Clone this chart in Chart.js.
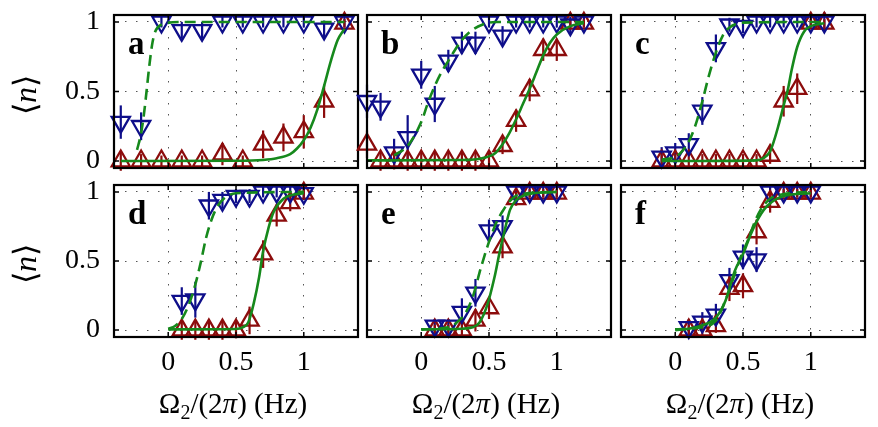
<!DOCTYPE html>
<html>
<head>
<meta charset="utf-8">
<script src="https://cdn.jsdelivr.net/npm/chart.js@4.4.1/dist/chart.umd.min.js"></script>
<style>
  body { margin: 0; background: #fff; }
  #wrap { position: relative; width: 878px; height: 427px; overflow: hidden;
          font-family: "Liberation Serif", "Times New Roman", serif; color: #000; }
  #wrap canvas { position: absolute; left: 0; top: 0; }
  .ylab { position: absolute; font-size: 32px; line-height: 1; white-space: nowrap;
          transform: translate(-50%, -50%) rotate(-90deg); }
  .xlab { position: absolute; font-size: 29px; line-height: 1; white-space: nowrap;
          transform: translate(-50%, -50%); }
  .xlab sub { font-size: 20px; vertical-align: -6px; line-height: 0; }
</style>
</head>
<body>
<div id="wrap"></div>
<script>
// tick labels and panel names
const xTicks = [0, 0.5, 1];
const yTicks = [0, 0.5, 1];
const panelLetters = ['a', 'b', 'c', 'd', 'e', 'f'];

// panel a
const aX = [-0.35, -0.2, -0.05, 0.1, 0.25, 0.4, 0.55, 0.7, 0.85, 1.0, 1.15, 1.3];
const aBlue = [0.28, 0.25, 1.0, 0.94, 0.94, 1.0, 1.0, 1.0, 1.0, 1.0, 0.95, 1.0];
const aBlueErr = [0.12, 0.1, 0.04, 0.06, 0.06, 0.04, 0.04, 0.04, 0.04, 0.04, 0.06, 0.04];
const aRed = [0, 0, 0, 0, 0, 0.05, 0, 0.12, 0.17, 0.21, 0.43, 0.99];
const aRedErr = [0.07, 0.05, 0.04, 0.04, 0.04, 0.08, 0.04, 0.1, 0.1, 0.12, 0.12, 0.03];
const aSolidX = [-0.35, 0.5, 0.7, 0.8, 0.9, 0.95, 1.0, 1.05, 1.1, 1.15, 1.2, 1.25, 1.3];
const aSolidY = [0, 0.002, 0.008, 0.02, 0.05, 0.09, 0.15, 0.24, 0.37, 0.54, 0.72, 0.87, 0.95];
const aDashX = [-0.23, -0.2, -0.18, -0.16, -0.14, -0.12, -0.1, -0.05, 0.1, 1.3];
const aDashY = [0.08, 0.2, 0.33, 0.5, 0.68, 0.83, 0.92, 0.98, 1.0, 1.0];

// panel b
const bX = [-0.4, -0.3, -0.2, -0.1, 0, 0.1, 0.2, 0.3, 0.4, 0.5, 0.6, 0.7, 0.8, 0.9, 1.0, 1.1, 1.2];
const bBlue = [0.43, 0.39, 0.06, 0.17, 0.62, 0.41, 0.72, 0.85, 0.85, 1.0, 0.9, 1.0, 1.0, 1.0, 1.0, 0.98, 1.0];
const bBlueErr = [0.12, 0.1, 0.1, 0.16, 0.1, 0.13, 0.08, 0.08, 0.08, 0.04, 0.07, 0.04, 0.04, 0.04, 0.04, 0.06, 0.04];
const bRed = [0.12, 0, 0, 0, 0, 0, 0, 0, 0, 0, 0.11, 0.29, 0.51, 0.8, 0.8, 0.99, 0.99];
const bRedErr = [0.1, 0.07, 0.06, 0.07, 0.07, 0.07, 0.07, 0.07, 0.07, 0.06, 0.06, 0.08, 0.08, 0.08, 0.08, 0.03, 0.03];
const bSolidX = [-0.4, 0.3, 0.45, 0.55, 0.6, 0.65, 0.7, 0.75, 0.8, 0.85, 0.9, 0.95, 1.0, 1.1, 1.2];
const bSolidY = [0.005, 0.007, 0.02, 0.06, 0.12, 0.2, 0.3, 0.41, 0.52, 0.64, 0.76, 0.85, 0.91, 0.97, 0.99];
const bDashX = [-0.2, -0.1, 0, 0.05, 0.1, 0.15, 0.2, 0.25, 0.3, 0.36, 0.45, 0.55, 1.2];
const bDashY = [0.04, 0.11, 0.28, 0.42, 0.54, 0.64, 0.72, 0.8, 0.87, 0.93, 0.98, 1.0, 1.0];

// panel c
const cX = [-0.1, 0, 0.1, 0.2, 0.3, 0.4, 0.5, 0.6, 0.7, 0.8, 0.9, 1.0, 1.1];
const cBlue = [0.03, 0.06, 0.12, 0.36, 0.81, 0.98, 0.97, 1.0, 1.0, 1.0, 1.0, 1.0, 1.0];
const cBlueErr = [0.07, 0.07, 0.08, 0.1, 0.1, 0.05, 0.05, 0.04, 0.04, 0.04, 0.04, 0.04, 0.07];
const cRed = [0, 0, 0, 0, 0, 0, 0, 0, 0.04, 0.43, 0.52, 0.99, 0.99];
const cRedErr = [0.05, 0.05, 0.05, 0.05, 0.05, 0.05, 0.05, 0.05, 0.06, 0.11, 0.11, 0.03, 0.03];
const cSolidX = [-0.1, 0.6, 0.65, 0.7, 0.73, 0.76, 0.8, 0.83, 0.86, 0.9, 0.95, 1.0, 1.1];
const cSolidY = [0, 0.005, 0.02, 0.07, 0.15, 0.25, 0.4, 0.51, 0.66, 0.82, 0.93, 0.97, 0.99];
const cDashX = [-0.1, 0, 0.05, 0.1, 0.15, 0.2, 0.25, 0.3, 0.35, 0.4, 0.5, 1.1];
const cDashY = [0.01, 0.03, 0.07, 0.14, 0.26, 0.43, 0.62, 0.78, 0.9, 0.96, 0.995, 1.0];

// panel d
const dX = [0.1, 0.2, 0.3, 0.4, 0.5, 0.6, 0.7, 0.8, 0.9, 1.0];
const dBlue = [0.21, 0.22, 0.9, 0.94, 0.97, 0.97, 1.0, 1.0, 1.0, 0.99];
const dBlueErr = [0.1, 0.13, 0.1, 0.06, 0.05, 0.05, 0.04, 0.04, 0.04, 0.05];
const dRed = [0, 0, 0, 0, 0, 0.07, 0.55, 0.83, 0.92, 0.99];
const dRedErr = [0.07, 0.07, 0.07, 0.07, 0.06, 0.1, 0.1, 0.08, 0.06, 0.03];
const dSolidX = [0, 0.5, 0.55, 0.59, 0.63, 0.67, 0.7, 0.74, 0.78, 0.85, 0.92, 1.0];
const dSolidY = [0.005, 0.008, 0.02, 0.055, 0.19, 0.38, 0.57, 0.74, 0.86, 0.95, 0.98, 0.99];
const dDashX = [0, 0.05, 0.1, 0.15, 0.2, 0.24, 0.28, 0.32, 0.36, 0.42, 0.5, 1.0];
const dDashY = [0.01, 0.03, 0.08, 0.18, 0.33, 0.49, 0.67, 0.8, 0.89, 0.96, 0.99, 1.0];

// panel e
const eX = [0.1, 0.2, 0.3, 0.4, 0.5, 0.6, 0.7, 0.8, 0.9, 1.0];
const eBlue = [0.03, 0.03, 0.13, 0.27, 0.72, 0.75, 1.0, 1.0, 1.0, 1.0];
const eBlueErr = [0.05, 0.05, 0.1, 0.1, 0.08, 0.08, 0.04, 0.04, 0.04, 0.04];
const eRed = [0, 0, 0, 0.07, 0.16, 0.6, 0.95, 0.99, 0.99, 0.99];
const eRedErr = [0.04, 0.04, 0.05, 0.08, 0.08, 0.08, 0.05, 0.03, 0.03, 0.03];
const eSolidX = [0, 0.3, 0.38, 0.43, 0.49, 0.54, 0.58, 0.62, 0.655, 0.7, 0.8, 1.0];
const eSolidY = [0.005, 0.01, 0.02, 0.055, 0.19, 0.38, 0.57, 0.74, 0.87, 0.94, 0.985, 1.0];
const eDashX = [0, 0.2, 0.28, 0.33, 0.38, 0.44, 0.49, 0.53, 0.56, 0.6, 0.65, 0.72, 1.0];
const eDashY = [0.005, 0.02, 0.07, 0.13, 0.24, 0.45, 0.61, 0.72, 0.79, 0.86, 0.93, 0.98, 1.0];

// panel f
const fX = [0.1, 0.2, 0.3, 0.4, 0.5, 0.6, 0.7, 0.8, 0.9, 1.0];
const fBlue = [0.02, 0.06, 0.11, 0.36, 0.53, 0.51, 1.0, 1.0, 1.0, 1.0];
const fBlueErr = [0.06, 0.07, 0.08, 0.09, 0.09, 0.09, 0.04, 0.04, 0.04, 0.04];
const fRed = [0, 0, 0.03, 0.3, 0.32, 0.71, 0.93, 0.99, 0.99, 0.99];
const fRedErr = [0.04, 0.04, 0.05, 0.09, 0.09, 0.09, 0.08, 0.03, 0.03, 0.03];
const fSolidX = [0, 0.1, 0.2, 0.3, 0.37, 0.44, 0.5, 0.56, 0.62, 0.68, 0.8, 1.0];
const fSolidY = [0, 0.01, 0.035, 0.09, 0.21, 0.43, 0.55, 0.7, 0.82, 0.9, 0.97, 0.99];
const fDashX = [0, 0.2, 0.3, 0.36, 0.42, 0.48, 0.54, 0.59, 0.63, 0.7, 0.8, 1.0];
const fDashY = [0.005, 0.02, 0.07, 0.19, 0.35, 0.52, 0.66, 0.79, 0.87, 0.95, 0.985, 1.0];

const BLUE = '#0e0e8a';
const RED = '#8c0c0c';
const GREEN = '#16891c';
const FONT = '"Liberation Serif", "Times New Roman", serif';

const panels = [
  { x: aX, blue: aBlue, blueErr: aBlueErr, red: aRed, redErr: aRedErr, sx: aSolidX, sy: aSolidY, dx: aDashX, dy: aDashY },
  { x: bX, blue: bBlue, blueErr: bBlueErr, red: bRed, redErr: bRedErr, sx: bSolidX, sy: bSolidY, dx: bDashX, dy: bDashY },
  { x: cX, blue: cBlue, blueErr: cBlueErr, red: cRed, redErr: cRedErr, sx: cSolidX, sy: cSolidY, dx: cDashX, dy: cDashY },
  { x: dX, blue: dBlue, blueErr: dBlueErr, red: dRed, redErr: dRedErr, sx: dSolidX, sy: dSolidY, dx: dDashX, dy: dDashY },
  { x: eX, blue: eBlue, blueErr: eBlueErr, red: eRed, redErr: eRedErr, sx: eSolidX, sy: eSolidY, dx: eDashX, dy: eDashY },
  { x: fX, blue: fBlue, blueErr: fBlueErr, red: fRed, redErr: fRedErr, sx: fSolidX, sy: fSolidY, dx: fDashX, dy: fDashY }
];

// plot boxes [left, top, right, bottom] in page pixels
const boxes = [
  [114, 15, 358, 168], [367, 15, 611, 168], [621, 15, 865, 168],
  [114, 185, 358, 337], [367, 185, 611, 337], [621, 185, 865, 337]
];

const W = 878, H = 427;
const wrap = document.getElementById('wrap');

function pts(xs, ys) {
  return xs.map((x, i) => ({ x: x, y: ys[i] }));
}

// vertical error bars, drawn under the markers
const errorBars = {
  id: 'errorBars',
  beforeDatasetsDraw(chart) {
    const ctx = chart.ctx;
    const xs = chart.scales.x, ys = chart.scales.y;
    chart.data.datasets.forEach(ds => {
      if (!ds.errors) return;
      ctx.save();
      ctx.strokeStyle = ds.borderColor;
      ctx.lineWidth = 2.2;
      ds.data.forEach((p, i) => {
        const px = xs.getPixelForValue(p.x);
        ctx.beginPath();
        ctx.moveTo(px, ys.getPixelForValue(p.y - ds.errors[i]));
        ctx.lineTo(px, ys.getPixelForValue(p.y + ds.errors[i]));
        ctx.stroke();
      });
      ctx.restore();
    });
  }
};

// black frame, inward ticks on all sides, panel letter
const frame = {
  id: 'frame',
  afterDraw(chart, args, opts) {
    const ctx = chart.ctx;
    const a = chart.chartArea;
    const xs = chart.scales.x, ys = chart.scales.y;
    ctx.save();
    ctx.strokeStyle = '#000';
    ctx.lineWidth = 1.5;
    xTicks.forEach(v => {
      const px = xs.getPixelForValue(v);
      ctx.beginPath();
      ctx.moveTo(px, a.bottom); ctx.lineTo(px, a.bottom - 5);
      ctx.moveTo(px, a.top); ctx.lineTo(px, a.top + 5);
      ctx.stroke();
    });
    yTicks.forEach(v => {
      const py = ys.getPixelForValue(v);
      ctx.beginPath();
      ctx.moveTo(a.left, py); ctx.lineTo(a.left + 5, py);
      ctx.moveTo(a.right, py); ctx.lineTo(a.right - 5, py);
      ctx.stroke();
    });
    ctx.lineWidth = 2.2;
    ctx.strokeRect(a.left, a.top, a.right - a.left, a.bottom - a.top);
    ctx.fillStyle = '#000';
    ctx.font = 'bold 33px ' + FONT;
    ctx.textBaseline = 'alphabetic';
    ctx.fillText(opts.letter, a.left + 14, a.top + 39);
    ctx.restore();
  }
};

panels.forEach((p, k) => {
  const box = boxes[k];
  const leftCol = (k % 3) === 0;
  const bottomRow = k >= 3;
  const yW = leftCol ? box[0] : 0;
  const xH = bottomRow ? 40 : 0;

  const canvas = document.createElement('canvas');
  canvas.width = W; canvas.height = H;
  canvas.style.width = W + 'px'; canvas.style.height = H + 'px';
  wrap.appendChild(canvas);

  new Chart(canvas.getContext('2d'), {
    type: 'scatter',
    data: {
      datasets: [
        { data: pts(p.sx, p.sy), showLine: true, borderColor: GREEN, borderWidth: 2.6,
          pointRadius: 0, cubicInterpolationMode: 'monotone', fill: false },
        { data: pts(p.dx, p.dy), showLine: true, borderColor: GREEN, borderWidth: 2.6,
          borderDash: [11, 6], pointRadius: 0, cubicInterpolationMode: 'monotone', fill: false },
        { data: pts(p.x, p.blue), errors: p.blueErr, pointStyle: 'triangle', rotation: 180,
          pointRadius: 10.5, borderColor: BLUE, backgroundColor: 'rgba(0,0,0,0)',
          borderWidth: 2.3, clip: false },
        { data: pts(p.x, p.red), errors: p.redErr, pointStyle: 'triangle',
          pointRadius: 10.5, borderColor: RED, backgroundColor: 'rgba(0,0,0,0)',
          borderWidth: 2.3, clip: false }
      ]
    },
    options: {
      responsive: false,
      animation: false,
      events: [],
      layout: { padding: { left: box[0] - yW, top: box[1], right: W - box[2], bottom: H - box[3] - xH } },
      plugins: { legend: { display: false }, tooltip: { enabled: false }, frame: { letter: panelLetters[k] } },
      scales: {
        x: {
          type: 'linear', min: -0.4, max: 1.4,
          afterBuildTicks: s => { s.ticks = xTicks.map(v => ({ value: v })); },
          afterFit: s => { s.height = xH; s.paddingLeft = 0; s.paddingRight = 0; },
          grid: { color: '#555', lineWidth: 1, drawTicks: false },
          border: { display: false, dash: [1.5, 9.5] },
          ticks: { display: bottomRow, color: '#000', padding: 9,
                   font: { family: FONT, size: 28 }, callback: v => String(v) }
        },
        y: {
          type: 'linear', min: -0.05, max: 1.05,
          afterBuildTicks: s => { s.ticks = yTicks.map(v => ({ value: v })); },
          afterFit: s => { s.width = yW; s.paddingTop = 0; s.paddingBottom = 0; },
          grid: { color: '#555', lineWidth: 1, drawTicks: false },
          border: { display: false, dash: [1.5, 9.5] },
          ticks: { display: leftCol, color: '#000', padding: 14,
                   font: { family: FONT, size: 28 }, callback: v => String(v) }
        }
      }
    },
    plugins: [errorBars, frame]
  });

  if (leftCol) {
    const yl = document.createElement('div');
    yl.className = 'ylab';
    yl.innerHTML = '\u27E8<i>n</i>\u27E9';
    yl.style.left = '25px';
    yl.style.top = ((box[1] + box[3]) / 2 + 3) + 'px';
    wrap.appendChild(yl);
  }
  if (bottomRow) {
    const xl = document.createElement('div');
    xl.className = 'xlab';
    xl.innerHTML = '\u03A9<sub>2</sub>/(2<i>\u03C0</i>) (Hz)';
    xl.style.left = ((box[0] + box[2]) / 2 - 3) + 'px';
    xl.style.top = '403px';
    wrap.appendChild(xl);
  }
});
</script>
</body>
</html>
